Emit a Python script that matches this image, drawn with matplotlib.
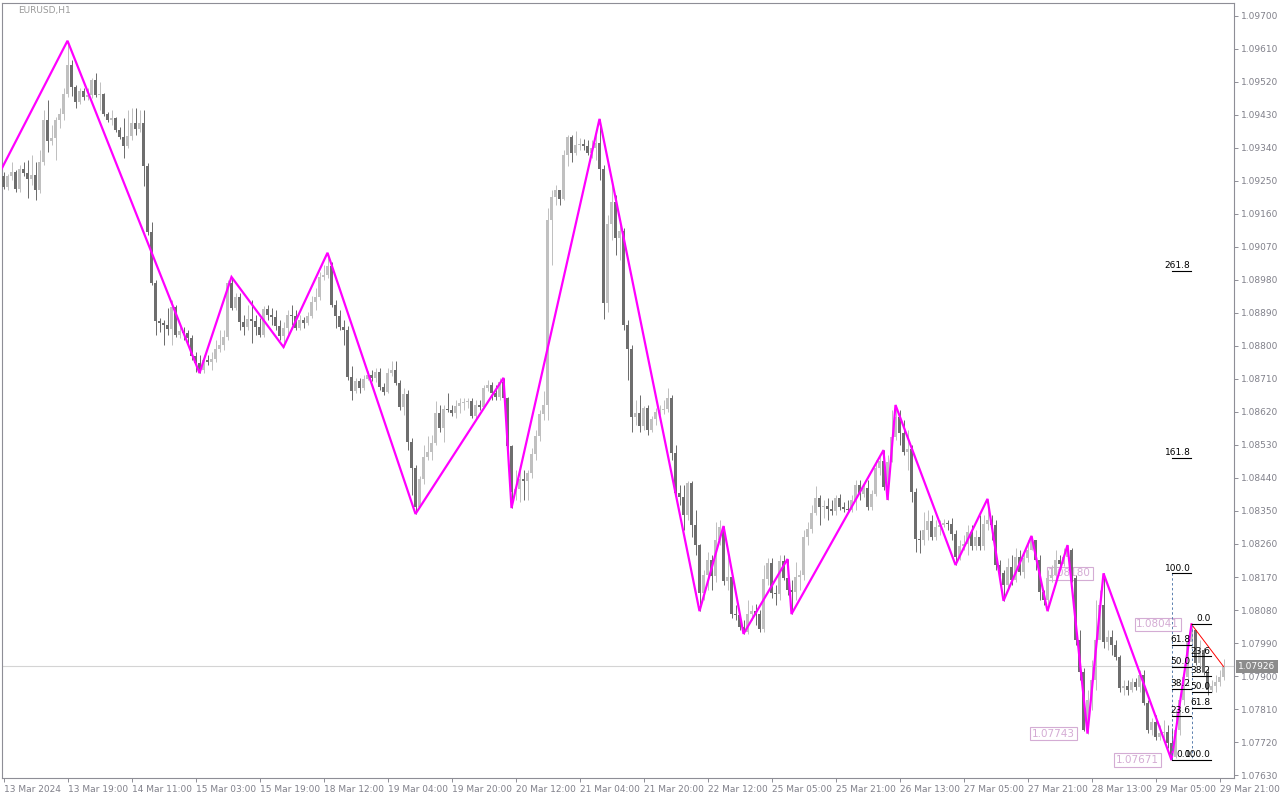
#!/usr/bin/env python3
"""EURUSD H1 candles with zigzag, two Fibonacci objects and pivot labels."""
import matplotlib
matplotlib.use("Agg")
import matplotlib.pyplot as plt
from matplotlib.transforms import blended_transform_factory

SYMBOL = "EURUSD,H1"

# hourly bars, bar 0 = 13 Mar 03:00; open of each bar = close of the previous one
OPEN0 = 1.09264
CLOSE = [
    1.09234, 1.09264, 1.09275, 1.09228, 1.09283, 1.09272, 1.09255, 1.09266, 1.09225, 1.09302,
    1.09416, 1.09359, 1.09367, 1.09416, 1.09433, 1.09487, 1.09566, 1.09506, 1.09465, 1.09495,
    1.09479, 1.09485, 1.09525, 1.09485, 1.09487, 1.09433, 1.09416, 1.09422, 1.09389, 1.09370,
    1.09345, 1.09373, 1.09408, 1.09392, 1.09408, 1.09291, 1.09111, 1.08972, 1.08868, 1.08863,
    1.08857, 1.08846, 1.08906, 1.08830, 1.08841, 1.08835, 1.08822, 1.08773, 1.08754, 1.08735,
    1.08762, 1.08756, 1.08765, 1.08792, 1.08803, 1.08825, 1.08972, 1.08904, 1.08934, 1.08865,
    1.08852, 1.08874, 1.08868, 1.08852, 1.08830, 1.08901, 1.08885, 1.08879, 1.08855, 1.08827,
    1.08849, 1.08885, 1.08882, 1.08849, 1.08871, 1.08863, 1.08882, 1.08920, 1.08934, 1.08988,
    1.08994, 1.09018, 1.08912, 1.08882, 1.08852, 1.08844, 1.08715, 1.08677, 1.08705, 1.08685,
    1.08710, 1.08721, 1.08713, 1.08729, 1.08688, 1.08675, 1.08726, 1.08735, 1.08699, 1.08634,
    1.08669, 1.08538, 1.08467, 1.08361, 1.08437, 1.08497, 1.08511, 1.08535, 1.08617, 1.08576,
    1.08628, 1.08625, 1.08617, 1.08636, 1.08645, 1.08647, 1.08650, 1.08609, 1.08639, 1.08634,
    1.08685, 1.08694, 1.08672, 1.08661, 1.08702, 1.08658, 1.08527, 1.08402, 1.08410, 1.08437,
    1.08432, 1.08454, 1.08505, 1.08555, 1.08615, 1.08639, 1.09144, 1.09206, 1.09225, 1.09201,
    1.09321, 1.09370, 1.09326, 1.09348, 1.09351, 1.09345, 1.09326, 1.09340, 1.09354, 1.09283,
    1.08917, 1.09133, 1.09193, 1.09095, 1.09114, 1.08857, 1.08792, 1.08606, 1.08617, 1.08582,
    1.08631, 1.08571, 1.08601, 1.08620, 1.08625, 1.08628, 1.08658, 1.08508, 1.08399, 1.08388,
    1.08339, 1.08426, 1.08312, 1.08257, 1.08126, 1.08175, 1.08216, 1.08173, 1.08271, 1.08306,
    1.08159, 1.08170, 1.08069, 1.08066, 1.08034, 1.08020, 1.08069, 1.08077, 1.08069, 1.08028,
    1.08165, 1.08208, 1.08126, 1.08124, 1.08214, 1.08167, 1.08135, 1.08129, 1.08170, 1.08175,
    1.08279, 1.08301, 1.08345, 1.08385, 1.08361, 1.08364, 1.08355, 1.08350, 1.08385, 1.08361,
    1.08355, 1.08353, 1.08380, 1.08421, 1.08396, 1.08413, 1.08361, 1.08396, 1.08467, 1.08486,
    1.08415, 1.08484, 1.08552, 1.08606, 1.08563, 1.08511, 1.08519, 1.08402, 1.08274, 1.08271,
    1.08298, 1.08323, 1.08279, 1.08306, 1.08312, 1.08317, 1.08315, 1.08287, 1.08225, 1.08255,
    1.08260, 1.08293, 1.08255, 1.08279, 1.08255, 1.08315, 1.08325, 1.08312, 1.08203, 1.08181,
    1.08148, 1.08197, 1.08162, 1.08225, 1.08184, 1.08222, 1.08244, 1.08271, 1.08216, 1.08129,
    1.08107, 1.08167, 1.08175, 1.08216, 1.08205, 1.08225, 1.08244, 1.08167, 1.07998, 1.07911,
    1.07753, 1.07835, 1.07889, 1.07998, 1.08094, 1.07993, 1.08006, 1.07985, 1.07952, 1.07867,
    1.07873, 1.07862, 1.07884, 1.07870, 1.07903, 1.07826, 1.07753, 1.07775, 1.07734, 1.07745,
    1.07747, 1.07717, 1.07679, 1.07753, 1.07835, 1.07897, 1.07993, 1.08025, 1.07935, 1.07971,
    1.07911, 1.07862, 1.07873, 1.07884, 1.07897, 1.07926,
]
HIGH = [
    1.09275, 1.09269, 1.09302, 1.09280, 1.09294, 1.09302, 1.09307, 1.09321, 1.09302, 1.09335,
    1.09444, 1.09471, 1.09403, 1.09425, 1.09449, 1.09504, 1.09632, 1.09580, 1.09512, 1.09504,
    1.09504, 1.09504, 1.09531, 1.09545, 1.09520, 1.09490, 1.09438, 1.09444, 1.09425, 1.09397,
    1.09422, 1.09444, 1.09449, 1.09449, 1.09444, 1.09444, 1.09299, 1.09138, 1.08980, 1.08876,
    1.08871, 1.08904, 1.08925, 1.08912, 1.08857, 1.08852, 1.08844, 1.08830, 1.08784, 1.08775,
    1.08775, 1.08775, 1.08784, 1.08816, 1.08844, 1.08844, 1.08980, 1.08988, 1.08945, 1.08945,
    1.08885, 1.08912, 1.08925, 1.08885, 1.08876, 1.08909, 1.08912, 1.08904, 1.08898, 1.08871,
    1.08865, 1.08898, 1.08912, 1.08898, 1.08885, 1.08879, 1.08893, 1.08936, 1.08958, 1.09002,
    1.09021, 1.09054, 1.09029, 1.08925, 1.08898, 1.08871, 1.08855, 1.08745, 1.08713, 1.08713,
    1.08721, 1.08732, 1.08735, 1.08740, 1.08740, 1.08699, 1.08740, 1.08759, 1.08759, 1.08707,
    1.08685, 1.08680, 1.08549, 1.08475, 1.08445, 1.08530, 1.08555, 1.08557, 1.08650, 1.08639,
    1.08639, 1.08672, 1.08639, 1.08653, 1.08658, 1.08658, 1.08658, 1.08658, 1.08653, 1.08653,
    1.08694, 1.08707, 1.08702, 1.08694, 1.08713, 1.08713, 1.08661, 1.08530, 1.08462, 1.08462,
    1.08462, 1.08462, 1.08522, 1.08571, 1.08625, 1.08677, 1.09176, 1.09225, 1.09239, 1.09225,
    1.09335, 1.09375, 1.09375, 1.09386, 1.09367, 1.09365, 1.09362, 1.09362, 1.09389, 1.09419,
    1.09294, 1.09157, 1.09239, 1.09212, 1.09130, 1.09122, 1.08871, 1.08803, 1.08653, 1.08666,
    1.08636, 1.08639, 1.08609, 1.08631, 1.08639, 1.08653, 1.08685, 1.08666, 1.08530, 1.08421,
    1.08421, 1.08432, 1.08432, 1.08353, 1.08260, 1.08189, 1.08238, 1.08230, 1.08320, 1.08325,
    1.08309, 1.08230, 1.08189, 1.08094, 1.08069, 1.08053, 1.08107, 1.08094, 1.08096, 1.08080,
    1.08203, 1.08222, 1.08222, 1.08148, 1.08230, 1.08230, 1.08219, 1.08162, 1.08211, 1.08189,
    1.08298, 1.08320, 1.08366, 1.08418, 1.08394, 1.08380, 1.08385, 1.08380, 1.08394, 1.08396,
    1.08375, 1.08380, 1.08394, 1.08435, 1.08435, 1.08424, 1.08435, 1.08407, 1.08489, 1.08503,
    1.08516, 1.08503, 1.08625, 1.08639, 1.08625, 1.08598, 1.08571, 1.08530, 1.08413, 1.08298,
    1.08347, 1.08353, 1.08339, 1.08325, 1.08325, 1.08328, 1.08325, 1.08331, 1.08298, 1.08271,
    1.08285, 1.08312, 1.08312, 1.08298, 1.08339, 1.08339, 1.08383, 1.08339, 1.08325, 1.08216,
    1.08189, 1.08222, 1.08230, 1.08249, 1.08244, 1.08244, 1.08271, 1.08282, 1.08271, 1.08230,
    1.08135, 1.08189, 1.08203, 1.08244, 1.08230, 1.08249, 1.08257, 1.08249, 1.08175, 1.08025,
    1.07922, 1.07862, 1.07944, 1.08107, 1.08135, 1.08180, 1.08025, 1.08025, 1.07998, 1.07957,
    1.07889, 1.07889, 1.07895, 1.07895, 1.07916, 1.07916, 1.07835, 1.07785, 1.07794, 1.07766,
    1.07780, 1.07766, 1.07758, 1.07807, 1.07848, 1.07930, 1.08012, 1.08041, 1.08025, 1.07998,
    1.07976, 1.07922, 1.07889, 1.07903, 1.07916, 1.07946,
]
LOW = [
    1.09228, 1.09225, 1.09253, 1.09220, 1.09220, 1.09264, 1.09204, 1.09239, 1.09198, 1.09217,
    1.09294, 1.09329, 1.09348, 1.09307, 1.09395, 1.09416, 1.09479, 1.09482, 1.09449, 1.09460,
    1.09471, 1.09471, 1.09476, 1.09479, 1.09444, 1.09427, 1.09411, 1.09403, 1.09384, 1.09365,
    1.09313, 1.09340, 1.09362, 1.09375, 1.09384, 1.09236, 1.09103, 1.08966, 1.08830, 1.08838,
    1.08803, 1.08830, 1.08803, 1.08825, 1.08822, 1.08816, 1.08803, 1.08762, 1.08729, 1.08726,
    1.08726, 1.08748, 1.08735, 1.08756, 1.08784, 1.08789, 1.08816, 1.08898, 1.08898, 1.08844,
    1.08830, 1.08844, 1.08808, 1.08830, 1.08825, 1.08825, 1.08871, 1.08857, 1.08844, 1.08816,
    1.08797, 1.08830, 1.08857, 1.08844, 1.08844, 1.08849, 1.08857, 1.08876, 1.08898, 1.08925,
    1.08980, 1.08985, 1.08906, 1.08849, 1.08844, 1.08803, 1.08707, 1.08653, 1.08672, 1.08672,
    1.08680, 1.08707, 1.08705, 1.08702, 1.08680, 1.08666, 1.08672, 1.08718, 1.08694, 1.08625,
    1.08612, 1.08516, 1.08394, 1.08342, 1.08361, 1.08424, 1.08489, 1.08489, 1.08530, 1.08565,
    1.08538, 1.08620, 1.08609, 1.08604, 1.08617, 1.08625, 1.08631, 1.08604, 1.08598, 1.08625,
    1.08631, 1.08677, 1.08653, 1.08653, 1.08653, 1.08653, 1.08489, 1.08358, 1.08380, 1.08375,
    1.08380, 1.08380, 1.08440, 1.08489, 1.08541, 1.08598, 1.08598, 1.09021, 1.09185, 1.09185,
    1.09198, 1.09291, 1.09302, 1.09321, 1.09335, 1.09335, 1.09321, 1.09313, 1.09307, 1.09253,
    1.08874, 1.08893, 1.09089, 1.09048, 1.09035, 1.08844, 1.08707, 1.08565, 1.08585, 1.08565,
    1.08571, 1.08557, 1.08565, 1.08585, 1.08612, 1.08615, 1.08620, 1.08489, 1.08380, 1.08366,
    1.08298, 1.08325, 1.08279, 1.08230, 1.08077, 1.08107, 1.08135, 1.08135, 1.08156, 1.08257,
    1.08148, 1.08135, 1.08058, 1.08053, 1.08025, 1.08015, 1.08015, 1.08053, 1.08039, 1.08020,
    1.08020, 1.08148, 1.08113, 1.08094, 1.08107, 1.08162, 1.08121, 1.08069, 1.08107, 1.08135,
    1.08162, 1.08257, 1.08290, 1.08339, 1.08312, 1.08331, 1.08325, 1.08339, 1.08339, 1.08353,
    1.08347, 1.08347, 1.08347, 1.08353, 1.08380, 1.08388, 1.08353, 1.08353, 1.08391, 1.08448,
    1.08407, 1.08380, 1.08484, 1.08544, 1.08530, 1.08503, 1.08462, 1.08375, 1.08238, 1.08235,
    1.08257, 1.08271, 1.08271, 1.08271, 1.08285, 1.08306, 1.08298, 1.08271, 1.08203, 1.08216,
    1.08244, 1.08230, 1.08244, 1.08244, 1.08244, 1.08244, 1.08298, 1.08271, 1.08189, 1.08162,
    1.08105, 1.08135, 1.08148, 1.08156, 1.08175, 1.08167, 1.08211, 1.08244, 1.08189, 1.08107,
    1.08094, 1.08077, 1.08156, 1.08162, 1.08195, 1.08200, 1.08216, 1.08156, 1.07985, 1.07889,
    1.07750, 1.07743, 1.07807, 1.07862, 1.08053, 1.07976, 1.07971, 1.07957, 1.07944, 1.07856,
    1.07848, 1.07848, 1.07856, 1.07862, 1.07856, 1.07821, 1.07745, 1.07739, 1.07725, 1.07725,
    1.07731, 1.07704, 1.07671, 1.07676, 1.07739, 1.07821, 1.07875, 1.07985, 1.07930, 1.07922,
    1.07903, 1.07848, 1.07856, 1.07856, 1.07873, 1.07889,
]

# zigzag pivots (bar index, price); the first one lies left of the visible range
ZZ_BAR = [-5, 16, 49, 57, 70, 81, 103, 125, 127, 149, 174, 180, 185, 196, 197,
          220, 221, 223, 238, 246, 250, 257, 261, 266, 271, 275, 292, 297]
ZZ_PRICE = [1.09187, 1.09632, 1.08726, 1.08988, 1.08797, 1.09054, 1.08342, 1.08713,
            1.08358, 1.09419, 1.08077, 1.08309, 1.08015, 1.08219, 1.08069, 1.08516,
            1.08380, 1.08639, 1.08203, 1.08383, 1.08105, 1.08282, 1.08077, 1.08257,
            1.07743, 1.08180, 1.07671, 1.08041]

PIVOT_BAR = [275, 271, 297, 292]
PIVOT_PRICE = [1.08180, 1.07743, 1.08041, 1.07671]

# Fibonacci objects: anchor bar, price at level 0, price at level 100
FIB1 = (292, 1.07671, 1.08180)
FIB1_LEVELS = [0.0, 23.6, 38.2, 50.0, 61.8, 100.0, 161.8, 261.8]
FIB2 = (297, 1.08041, 1.07671)
FIB2_LEVELS = [0.0, 23.6, 38.2, 50.0, 61.8, 100.0]

TREND_BAR = [297, 305]
TREND_PRICE = [1.08041, 1.07926]

BID = 1.07926

YTICKS = [1.09700, 1.09610, 1.09520, 1.09430, 1.09340, 1.09250, 1.09160, 1.09070,
          1.08980, 1.08890, 1.08800, 1.08710, 1.08620, 1.08530, 1.08440, 1.08350,
          1.08260, 1.08170, 1.08080, 1.07990, 1.07900, 1.07810, 1.07720, 1.07630]
XTICK_BAR = [0, 16, 32, 48, 64, 80, 96, 112, 128, 144, 160, 176, 192, 208, 224,
             240, 256, 272, 288, 304]
XTICK_LABELS = ["13 Mar 2024", "13 Mar 19:00", "14 Mar 11:00", "15 Mar 03:00",
                "15 Mar 19:00", "18 Mar 12:00", "19 Mar 04:00", "19 Mar 20:00",
                "20 Mar 12:00", "21 Mar 04:00", "21 Mar 20:00", "22 Mar 12:00",
                "25 Mar 05:00", "25 Mar 21:00", "26 Mar 13:00", "27 Mar 05:00",
                "27 Mar 21:00", "28 Mar 13:00", "29 Mar 05:00", "29 Mar 21:00"]

UP = "#c0c0c0"
DOWN = "#6e6e6e"
AXIS = "#8e8e96"
TEXT = "#80808a"
PLUM = "#d4acd4"

plt.rcParams["font.family"] = ["DejaVu Sans"]

fig = plt.figure(figsize=(12.8, 8), dpi=100)
ax = fig.add_axes([2 / 1280, 22 / 800, 1232 / 1280, 775 / 800])
# 4 px per bar; bar centres fall on pixel centres so 3 px bodies stay crisp
ax.set_xlim(-0.375, 307.625)
ax.set_ylim(1.07622, 1.09735)

opens = [OPEN0] + CLOSE[:-1]
xs = list(range(len(CLOSE)))
for x, o, h, l, c in zip(xs, opens, HIGH, LOW, CLOSE):
    col = UP if c >= o else DOWN
    ax.vlines(x, l, h, color=col, lw=0.72, zorder=3)
    body = max(abs(c - o), 0.00002)
    ax.bar(x, body, bottom=min(o, c), width=0.75, color=col, lw=0,
           zorder=3, antialiased=False)

ax.axhline(BID, color="#d4d4d4", lw=0.8, zorder=1)

ax.plot(ZZ_BAR, ZZ_PRICE, color="#ff00ff", lw=1.6, zorder=4,
        solid_joinstyle="miter")
ax.plot(TREND_BAR, TREND_PRICE, color="#ff0000", lw=0.7, zorder=5)

for b, p in zip(PIVOT_BAR, PIVOT_PRICE):
    ax.annotate(f"{p:.5f}", xy=(b, p), xytext=(-9, 0), textcoords="offset points",
                ha="right", va="center", fontsize=7.5, color=PLUM, zorder=2,
                bbox=dict(boxstyle="square,pad=0.15", fc="white", ec=PLUM, lw=0.8))


def draw_fib(anchor, levels):
    bar, p0, p100 = anchor
    ax.plot([bar, bar], [p0, p100], color="#5a7fae", lw=0.7,
            ls=(0, (2.5, 2.5)), zorder=5)
    for lev in levels:
        p = p0 + (p100 - p0) * lev / 100.0
        ax.plot([bar, bar + 4.75], [p, p], color="black", lw=0.8, zorder=5)
        ax.annotate(f"{lev:.1f}", xy=(bar + 4.75, p), xytext=(0, 0.6),
                    textcoords="offset points", ha="right", va="bottom",
                    fontsize=6.5, color="black", zorder=6)


draw_fib(FIB1, FIB1_LEVELS)
draw_fib(FIB2, FIB2_LEVELS)

for s in ax.spines.values():
    s.set_color(AXIS)
    s.set_linewidth(0.8)

ax.yaxis.tick_right()
ax.set_yticks(YTICKS)
ax.set_yticklabels([f"{v:.5f}" for v in YTICKS])
ax.set_xticks(XTICK_BAR)
ax.set_xticklabels(XTICK_LABELS, ha="left")
ax.tick_params(axis="both", length=3, width=0.7, color=AXIS, labelcolor=TEXT,
               labelsize=6.5, pad=2)

tr = blended_transform_factory(ax.transAxes, ax.transData)
ax.text(1.0 + 4 / 1232, BID, f"{BID:.5f}", transform=tr, ha="left", va="center",
        fontsize=6.5, color="white", zorder=7, clip_on=False,
        bbox=dict(boxstyle="square,pad=0.25", fc="#8c8c8c", ec="none"))

fig.text(18 / 1280, 1 - 10 / 800, SYMBOL, ha="left", va="center",
         fontsize=6.5, color="#9a9a9a")

fig.savefig("out.png", dpi=100)
